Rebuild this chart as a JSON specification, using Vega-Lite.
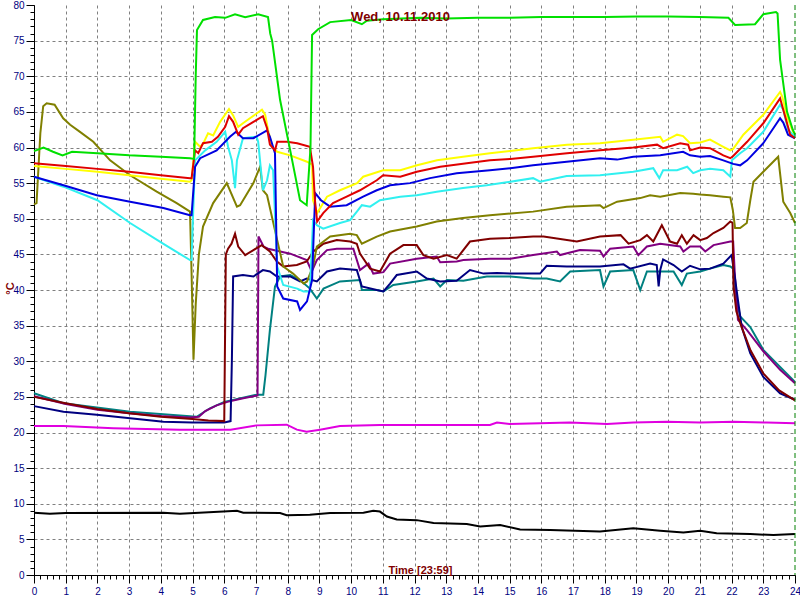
{
"$schema":"https://vega.github.io/schema/vega-lite/v6.json",
"width":761,"height":570,
"autosize":"none",
"padding":{"left":34,"top":5,"right":5,"bottom":25},
"background":"white",
"config":{"view":{"stroke":null},"font":"Liberation Sans"},
"title":{"text":"Wed, 10.11.2010","color":"#800000","font":"Liberation Sans","fontSize":13,"fontWeight":"bold","anchor":"middle","dx":-14,"offset":-24},
"data":{"values":[
{"s":"K","t":0,"v":8.75},{"s":"K","t":0.5,"v":8.6},{"s":"K","t":1,"v":8.7},{"s":"K","t":4.08,"v":8.75},{"s":"K","t":4.6,"v":8.6},{"s":"K","t":5.97,"v":8.9},{"s":"K","t":6.4,"v":9.0},{"s":"K","t":6.6,"v":8.75},{"s":"K","t":7.76,"v":8.7},{"s":"K","t":7.97,"v":8.4},{"s":"K","t":8.7,"v":8.45},{"s":"K","t":9.34,"v":8.7},{"s":"K","t":10.39,"v":8.75},{"s":"K","t":10.7,"v":9.0},{"s":"K","t":10.91,"v":8.9},{"s":"K","t":11.13,"v":8.2},{"s":"K","t":11.44,"v":7.8},{"s":"K","t":12.07,"v":7.7},{"s":"K","t":12.6,"v":7.3},{"s":"K","t":13.65,"v":7.15},{"s":"K","t":14.07,"v":6.8},{"s":"K","t":14.7,"v":7.0},{"s":"K","t":15.33,"v":6.4},{"s":"K","t":16.28,"v":6.3},{"s":"K","t":16.8,"v":6.25},{"s":"K","t":17.85,"v":6.1},{"s":"K","t":18.9,"v":6.55},{"s":"K","t":19.75,"v":6.2},{"s":"K","t":20.48,"v":5.95},{"s":"K","t":21.01,"v":6.2},{"s":"K","t":21.53,"v":5.85},{"s":"K","t":22.59,"v":5.75},{"s":"K","t":23.32,"v":5.6},{"s":"K","t":24,"v":5.75},
{"s":"Mg","t":0,"v":20.9},{"s":"Mg","t":0.93,"v":20.9},{"s":"Mg","t":2.5,"v":20.6},{"s":"Mg","t":4.6,"v":20.4},{"s":"Mg","t":6.2,"v":20.4},{"s":"Mg","t":7.02,"v":21.0},{"s":"Mg","t":7.97,"v":21.1},{"s":"Mg","t":8.29,"v":20.4},{"s":"Mg","t":8.6,"v":20.1},{"s":"Mg","t":9.02,"v":20.4},{"s":"Mg","t":9.65,"v":20.9},{"s":"Mg","t":10.91,"v":21.05},{"s":"Mg","t":12.7,"v":21.05},{"s":"Mg","t":14.38,"v":21.05},{"s":"Mg","t":14.6,"v":21.4},{"s":"Mg","t":15.0,"v":21.2},{"s":"Mg","t":16.9,"v":21.4},{"s":"Mg","t":18.07,"v":21.2},{"s":"Mg","t":18.9,"v":21.4},{"s":"Mg","t":19.96,"v":21.5},{"s":"Mg","t":21.01,"v":21.4},{"s":"Mg","t":22.06,"v":21.5},{"s":"Mg","t":23.11,"v":21.4},{"s":"Mg","t":24,"v":21.3},
{"s":"T","t":0,"v":25.5},{"s":"T","t":0.93,"v":24.1},{"s":"T","t":3.03,"v":22.9},{"s":"T","t":5.13,"v":22.2},{"s":"T","t":5.55,"v":23.4},{"s":"T","t":6.0,"v":24.3},{"s":"T","t":7.02,"v":25.3},{"s":"T","t":7.23,"v":25.3},{"s":"T","t":7.3,"v":28},{"s":"T","t":7.44,"v":34.4},{"s":"T","t":7.6,"v":40.5},{"s":"T","t":7.76,"v":41.9},{"s":"T","t":8.08,"v":42.1},{"s":"T","t":8.39,"v":41.4},{"s":"T","t":8.7,"v":40.2},{"s":"T","t":8.92,"v":38.8},{"s":"T","t":9.13,"v":40.2},{"s":"T","t":9.65,"v":41.2},{"s":"T","t":10.28,"v":41.4},{"s":"T","t":10.34,"v":40},{"s":"T","t":10.81,"v":40},{"s":"T","t":11.02,"v":39.8},{"s":"T","t":11.33,"v":40.7},{"s":"T","t":12.07,"v":41.2},{"s":"T","t":12.6,"v":41.6},{"s":"T","t":12.81,"v":40.5},{"s":"T","t":13.02,"v":41.4},{"s":"T","t":13.54,"v":41.3},{"s":"T","t":14.28,"v":41.9},{"s":"T","t":15.02,"v":41.9},{"s":"T","t":15.74,"v":41.6},{"s":"T","t":16.17,"v":41.6},{"s":"T","t":16.59,"v":41.2},{"s":"T","t":16.91,"v":42.6},{"s":"T","t":17.85,"v":42.8},{"s":"T","t":17.96,"v":40.5},{"s":"T","t":18.17,"v":42.6},{"s":"T","t":18.9,"v":42.8},{"s":"T","t":19.12,"v":40.0},{"s":"T","t":19.33,"v":42.6},{"s":"T","t":20.17,"v":42.6},{"s":"T","t":20.43,"v":40.7},{"s":"T","t":20.59,"v":42.3},{"s":"T","t":21.01,"v":42.6},{"s":"T","t":21.32,"v":43.0},{"s":"T","t":21.74,"v":43.5},{"s":"T","t":21.96,"v":43.3},{"s":"T","t":22.05,"v":43.0},{"s":"T","t":22.11,"v":39.5},{"s":"T","t":22.27,"v":36.3},{"s":"T","t":22.59,"v":34.8},{"s":"T","t":23.0,"v":31.6},{"s":"T","t":23.53,"v":29.2},{"s":"T","t":24,"v":27.1},
{"s":"P","t":0,"v":25.1},{"s":"P","t":1,"v":24.0},{"s":"P","t":2,"v":23.2},{"s":"P","t":3,"v":22.7},{"s":"P","t":4,"v":22.3},{"s":"P","t":4.9,"v":22.1},{"s":"P","t":5.2,"v":22.2},{"s":"P","t":5.4,"v":23.0},{"s":"P","t":5.76,"v":23.8},{"s":"P","t":6.1,"v":24.3},{"s":"P","t":6.6,"v":24.8},{"s":"P","t":7.05,"v":25.2},{"s":"P","t":7.08,"v":47.5},{"s":"P","t":7.24,"v":46.1},{"s":"P","t":7.38,"v":45.8},{"s":"P","t":8.08,"v":45.1},{"s":"P","t":8.6,"v":44.2},{"s":"P","t":8.76,"v":42.6},{"s":"P","t":8.92,"v":44.2},{"s":"P","t":9.24,"v":45.6},{"s":"P","t":9.55,"v":45.8},{"s":"P","t":10.07,"v":45.8},{"s":"P","t":10.28,"v":42.8},{"s":"P","t":10.55,"v":43.7},{"s":"P","t":10.7,"v":42.3},{"s":"P","t":11.02,"v":42.5},{"s":"P","t":11.23,"v":43.7},{"s":"P","t":12.07,"v":44.4},{"s":"P","t":12.7,"v":44.7},{"s":"P","t":12.81,"v":43.9},{"s":"P","t":13.33,"v":44.0},{"s":"P","t":13.54,"v":44.2},{"s":"P","t":14.38,"v":44.4},{"s":"P","t":15.02,"v":44.4},{"s":"P","t":15.74,"v":44.9},{"s":"P","t":16.49,"v":45.4},{"s":"P","t":16.59,"v":44.9},{"s":"P","t":17.22,"v":45.6},{"s":"P","t":17.85,"v":45.5},{"s":"P","t":17.96,"v":44.7},{"s":"P","t":18.17,"v":45.8},{"s":"P","t":18.9,"v":46.1},{"s":"P","t":19.06,"v":44.9},{"s":"P","t":19.33,"v":46.1},{"s":"P","t":19.75,"v":46.5},{"s":"P","t":20.38,"v":46.1},{"s":"P","t":20.48,"v":45.4},{"s":"P","t":20.69,"v":46.1},{"s":"P","t":21.01,"v":46.1},{"s":"P","t":21.17,"v":45.4},{"s":"P","t":21.43,"v":46.3},{"s":"P","t":21.96,"v":46.8},{"s":"P","t":22.05,"v":46.8},{"s":"P","t":22.1,"v":42.4},{"s":"P","t":22.2,"v":35.8},{"s":"P","t":22.48,"v":34.4},{"s":"P","t":23.0,"v":31.4},{"s":"P","t":23.53,"v":28.8},{"s":"P","t":24,"v":26.9},
{"s":"N","t":0,"v":23.7},{"s":"N","t":0.93,"v":22.9},{"s":"N","t":1.98,"v":22.5},{"s":"N","t":3.03,"v":22.0},{"s":"N","t":4.08,"v":21.5},{"s":"N","t":5.0,"v":21.4},{"s":"N","t":6.0,"v":21.4},{"s":"N","t":6.2,"v":21.6},{"s":"N","t":6.24,"v":30},{"s":"N","t":6.28,"v":41.9},{"s":"N","t":6.59,"v":42.1},{"s":"N","t":6.92,"v":41.9},{"s":"N","t":7.22,"v":42.8},{"s":"N","t":7.44,"v":42.6},{"s":"N","t":7.66,"v":41.9},{"s":"N","t":8.08,"v":41.9},{"s":"N","t":8.39,"v":41.2},{"s":"N","t":8.6,"v":41.6},{"s":"N","t":8.92,"v":41.2},{"s":"N","t":9.24,"v":42.6},{"s":"N","t":9.65,"v":43},{"s":"N","t":10.18,"v":42.8},{"s":"N","t":10.34,"v":40.5},{"s":"N","t":10.81,"v":40},{"s":"N","t":11.02,"v":39.8},{"s":"N","t":11.23,"v":40.9},{"s":"N","t":11.44,"v":42.1},{"s":"N","t":12.07,"v":42.6},{"s":"N","t":12.39,"v":41.6},{"s":"N","t":12.81,"v":41.2},{"s":"N","t":13.33,"v":41.3},{"s":"N","t":13.75,"v":42.8},{"s":"N","t":14.18,"v":42.3},{"s":"N","t":14.6,"v":42.4},{"s":"N","t":15.02,"v":42.3},{"s":"N","t":15.96,"v":42.3},{"s":"N","t":16.17,"v":43.4},{"s":"N","t":16.8,"v":43.3},{"s":"N","t":17.85,"v":43.3},{"s":"N","t":18.59,"v":43.6},{"s":"N","t":18.8,"v":43.0},{"s":"N","t":19.43,"v":43.7},{"s":"N","t":19.64,"v":43.5},{"s":"N","t":19.7,"v":40.5},{"s":"N","t":19.75,"v":42.8},{"s":"N","t":19.84,"v":44.3},{"s":"N","t":20.17,"v":43.5},{"s":"N","t":20.43,"v":42.6},{"s":"N","t":20.69,"v":43.4},{"s":"N","t":21.01,"v":42.9},{"s":"N","t":21.32,"v":43.0},{"s":"N","t":21.74,"v":43.7},{"s":"N","t":22.0,"v":44.9},{"s":"N","t":22.1,"v":41.9},{"s":"N","t":22.2,"v":38.6},{"s":"N","t":22.32,"v":34.8},{"s":"N","t":22.59,"v":31.1},{"s":"N","t":23.0,"v":27.8},{"s":"N","t":23.53,"v":25.5},{"s":"N","t":24,"v":24.6},
{"s":"M","t":0,"v":25.0},{"s":"M","t":1,"v":24.1},{"s":"M","t":2,"v":23.3},{"s":"M","t":3,"v":22.7},{"s":"M","t":4,"v":22.2},{"s":"M","t":5,"v":21.9},{"s":"M","t":5.5,"v":21.7},{"s":"M","t":6.0,"v":21.6},{"s":"M","t":6.05,"v":45},{"s":"M","t":6.12,"v":45.8},{"s":"M","t":6.23,"v":46.5},{"s":"M","t":6.34,"v":47.9},{"s":"M","t":6.44,"v":46.1},{"s":"M","t":6.66,"v":44.9},{"s":"M","t":6.92,"v":45.6},{"s":"M","t":7.18,"v":46.3},{"s":"M","t":7.44,"v":45.4},{"s":"M","t":7.66,"v":44},{"s":"M","t":7.86,"v":43.3},{"s":"M","t":8.29,"v":43.5},{"s":"M","t":8.6,"v":44},{"s":"M","t":8.81,"v":45.4},{"s":"M","t":9.13,"v":46.5},{"s":"M","t":9.55,"v":47},{"s":"M","t":9.97,"v":46.8},{"s":"M","t":10.18,"v":46.5},{"s":"M","t":10.28,"v":45.1},{"s":"M","t":10.6,"v":43},{"s":"M","t":10.91,"v":42.6},{"s":"M","t":11.23,"v":45.1},{"s":"M","t":11.65,"v":46.3},{"s":"M","t":12.07,"v":46.3},{"s":"M","t":12.28,"v":44.9},{"s":"M","t":12.6,"v":44.4},{"s":"M","t":13.02,"v":44.9},{"s":"M","t":13.33,"v":44.4},{"s":"M","t":13.75,"v":46.8},{"s":"M","t":14.38,"v":47.2},{"s":"M","t":15.0,"v":47.3},{"s":"M","t":15.74,"v":47.5},{"s":"M","t":16.07,"v":47.5},{"s":"M","t":17.12,"v":46.8},{"s":"M","t":17.85,"v":47.5},{"s":"M","t":18.5,"v":47.7},{"s":"M","t":18.75,"v":46.5},{"s":"M","t":19.12,"v":47.0},{"s":"M","t":19.33,"v":47.7},{"s":"M","t":19.53,"v":46.8},{"s":"M","t":19.8,"v":49.1},{"s":"M","t":20.06,"v":46.8},{"s":"M","t":20.28,"v":46.5},{"s":"M","t":20.43,"v":47.7},{"s":"M","t":20.59,"v":46.5},{"s":"M","t":20.8,"v":47.7},{"s":"M","t":21.01,"v":47.0},{"s":"M","t":21.22,"v":47.3},{"s":"M","t":21.43,"v":48.0},{"s":"M","t":21.74,"v":48.7},{"s":"M","t":21.96,"v":49.6},{"s":"M","t":22.03,"v":49.4},{"s":"M","t":22.06,"v":40.5},{"s":"M","t":22.15,"v":37},{"s":"M","t":22.3,"v":35},{"s":"M","t":22.6,"v":31.5},{"s":"M","t":23.0,"v":28.3},{"s":"M","t":23.5,"v":25.9},{"s":"M","t":24,"v":24.5},
{"s":"O","t":0,"v":52},{"s":"O","t":0.08,"v":52.2},{"s":"O","t":0.2,"v":62},{"s":"O","t":0.29,"v":65.8},{"s":"O","t":0.4,"v":66.2},{"s":"O","t":0.65,"v":66.0},{"s":"O","t":0.92,"v":64.1},{"s":"O","t":1.14,"v":63.2},{"s":"O","t":1.45,"v":62.2},{"s":"O","t":1.87,"v":60.8},{"s":"O","t":2.4,"v":58.2},{"s":"O","t":3.03,"v":56.1},{"s":"O","t":3.87,"v":53.8},{"s":"O","t":4.5,"v":52.2},{"s":"O","t":4.92,"v":51.0},{"s":"O","t":4.97,"v":42.3},{"s":"O","t":5.03,"v":30.2},{"s":"O","t":5.1,"v":38},{"s":"O","t":5.2,"v":45},{"s":"O","t":5.33,"v":48.9},{"s":"O","t":5.65,"v":52.2},{"s":"O","t":6.08,"v":55},{"s":"O","t":6.4,"v":51.7},{"s":"O","t":6.5,"v":51.9},{"s":"O","t":6.92,"v":55},{"s":"O","t":7.13,"v":57.3},{"s":"O","t":7.22,"v":54},{"s":"O","t":7.35,"v":53.3},{"s":"O","t":7.67,"v":47},{"s":"O","t":7.86,"v":43.3},{"s":"O","t":8.17,"v":42.3},{"s":"O","t":8.5,"v":40.9},{"s":"O","t":8.61,"v":41.2},{"s":"O","t":8.8,"v":43.3},{"s":"O","t":8.92,"v":46.1},{"s":"O","t":9.34,"v":47.5},{"s":"O","t":9.97,"v":47.9},{"s":"O","t":10.18,"v":47.7},{"s":"O","t":10.34,"v":46.5},{"s":"O","t":10.81,"v":47.5},{"s":"O","t":11.23,"v":48.2},{"s":"O","t":12.07,"v":48.9},{"s":"O","t":12.7,"v":49.6},{"s":"O","t":13.53,"v":50.1},{"s":"O","t":14.38,"v":50.5},{"s":"O","t":15.74,"v":51},{"s":"O","t":16.8,"v":51.7},{"s":"O","t":17.85,"v":51.9},{"s":"O","t":17.96,"v":51.5},{"s":"O","t":18.39,"v":52.4},{"s":"O","t":19.12,"v":52.9},{"s":"O","t":19.43,"v":53.3},{"s":"O","t":19.75,"v":53.1},{"s":"O","t":20.38,"v":53.6},{"s":"O","t":20.79,"v":53.5},{"s":"O","t":21.01,"v":53.4},{"s":"O","t":21.32,"v":53.3},{"s":"O","t":21.74,"v":53.1},{"s":"O","t":21.96,"v":53.0},{"s":"O","t":22.04,"v":51.2},{"s":"O","t":22.11,"v":48.7},{"s":"O","t":22.27,"v":48.7},{"s":"O","t":22.48,"v":49.4},{"s":"O","t":22.59,"v":52.6},{"s":"O","t":22.69,"v":55.2},{"s":"O","t":23.0,"v":56.6},{"s":"O","t":23.47,"v":58.7},{"s":"O","t":23.63,"v":52.4},{"s":"O","t":23.85,"v":50.8},{"s":"O","t":24,"v":49.4},
{"s":"C","t":0,"v":55.9},{"s":"C","t":0.93,"v":54.5},{"s":"C","t":2.0,"v":52.6},{"s":"C","t":3.03,"v":49.4},{"s":"C","t":4.07,"v":46.5},{"s":"C","t":4.92,"v":44.2},{"s":"C","t":4.97,"v":44.2},{"s":"C","t":5.0,"v":48.4},{"s":"C","t":5.08,"v":58.2},{"s":"C","t":5.4,"v":59.6},{"s":"C","t":5.76,"v":60.8},{"s":"C","t":6.03,"v":62.2},{"s":"C","t":6.12,"v":60.1},{"s":"C","t":6.24,"v":58.2},{"s":"C","t":6.34,"v":54.3},{"s":"C","t":6.4,"v":58.2},{"s":"C","t":6.59,"v":61.3},{"s":"C","t":7.02,"v":61.5},{"s":"C","t":7.07,"v":60.8},{"s":"C","t":7.22,"v":54},{"s":"C","t":7.35,"v":55.4},{"s":"C","t":7.44,"v":57.5},{"s":"C","t":7.54,"v":56.8},{"s":"C","t":7.67,"v":43.3},{"s":"C","t":7.86,"v":40.7},{"s":"C","t":8.3,"v":40.2},{"s":"C","t":8.5,"v":39.8},{"s":"C","t":8.7,"v":39.8},{"s":"C","t":8.8,"v":49.8},{"s":"C","t":8.92,"v":49.1},{"s":"C","t":9.12,"v":48.6},{"s":"C","t":9.65,"v":49.4},{"s":"C","t":9.97,"v":49.8},{"s":"C","t":10.22,"v":51.2},{"s":"C","t":10.34,"v":51.9},{"s":"C","t":10.6,"v":51.7},{"s":"C","t":10.91,"v":52.6},{"s":"C","t":11.55,"v":53.1},{"s":"C","t":12.07,"v":53.3},{"s":"C","t":12.7,"v":53.8},{"s":"C","t":13.53,"v":54.3},{"s":"C","t":14.28,"v":54.7},{"s":"C","t":15.02,"v":55.2},{"s":"C","t":15.74,"v":55.7},{"s":"C","t":15.96,"v":55.2},{"s":"C","t":16.8,"v":56},{"s":"C","t":17.85,"v":56.1},{"s":"C","t":18.9,"v":56.6},{"s":"C","t":19.53,"v":57.1},{"s":"C","t":19.72,"v":55.7},{"s":"C","t":19.84,"v":56.8},{"s":"C","t":20.28,"v":56.8},{"s":"C","t":20.6,"v":57.3},{"s":"C","t":20.79,"v":56.4},{"s":"C","t":21.01,"v":56.8},{"s":"C","t":21.32,"v":57.0},{"s":"C","t":21.74,"v":56.8},{"s":"C","t":21.96,"v":55.9},{"s":"C","t":22.01,"v":58.2},{"s":"C","t":22.27,"v":59.2},{"s":"C","t":22.49,"v":59.9},{"s":"C","t":23.0,"v":62.2},{"s":"C","t":23.53,"v":66},{"s":"C","t":23.63,"v":65.3},{"s":"C","t":23.78,"v":62.5},{"s":"C","t":24,"v":61.5},
{"s":"Y","t":0,"v":57.4},{"s":"Y","t":1,"v":57.0},{"s":"Y","t":2,"v":56.6},{"s":"Y","t":3,"v":56.1},{"s":"Y","t":4,"v":55.6},{"s":"Y","t":4.92,"v":55.2},{"s":"Y","t":4.97,"v":55.4},{"s":"Y","t":5.08,"v":60.8},{"s":"Y","t":5.24,"v":60.1},{"s":"Y","t":5.33,"v":60.5},{"s":"Y","t":5.49,"v":62},{"s":"Y","t":5.65,"v":61.7},{"s":"Y","t":5.87,"v":63.6},{"s":"Y","t":6.15,"v":65.4},{"s":"Y","t":6.28,"v":64.5},{"s":"Y","t":6.44,"v":62.9},{"s":"Y","t":6.59,"v":63.4},{"s":"Y","t":6.81,"v":64.1},{"s":"Y","t":7.03,"v":64.8},{"s":"Y","t":7.19,"v":65.3},{"s":"Y","t":7.29,"v":64.6},{"s":"Y","t":7.38,"v":62.5},{"s":"Y","t":7.51,"v":60.1},{"s":"Y","t":7.67,"v":59.4},{"s":"Y","t":8.08,"v":58.9},{"s":"Y","t":8.61,"v":58.0},{"s":"Y","t":8.77,"v":57.6},{"s":"Y","t":8.8,"v":52.6},{"s":"Y","t":8.93,"v":50.8},{"s":"Y","t":9.24,"v":53.1},{"s":"Y","t":9.65,"v":54},{"s":"Y","t":10.19,"v":55},{"s":"Y","t":10.38,"v":55.9},{"s":"Y","t":11.01,"v":56.8},{"s":"Y","t":11.55,"v":56.8},{"s":"Y","t":12.08,"v":57.5},{"s":"Y","t":12.71,"v":58.2},{"s":"Y","t":13.53,"v":58.7},{"s":"Y","t":14.38,"v":59.2},{"s":"Y","t":15.02,"v":59.5},{"s":"Y","t":15.74,"v":59.9},{"s":"Y","t":16.81,"v":60.4},{"s":"Y","t":17.85,"v":60.6},{"s":"Y","t":18.9,"v":61.1},{"s":"Y","t":19.75,"v":61.5},{"s":"Y","t":19.84,"v":60.8},{"s":"Y","t":20.28,"v":61.8},{"s":"Y","t":20.47,"v":61.6},{"s":"Y","t":20.69,"v":60.6},{"s":"Y","t":21.01,"v":60.7},{"s":"Y","t":21.32,"v":61.1},{"s":"Y","t":21.74,"v":60.1},{"s":"Y","t":21.96,"v":59.6},{"s":"Y","t":22.05,"v":59.8},{"s":"Y","t":22.37,"v":61.8},{"s":"Y","t":23.0,"v":64.6},{"s":"Y","t":23.53,"v":67.8},{"s":"Y","t":23.6,"v":67.1},{"s":"Y","t":23.75,"v":64.3},{"s":"Y","t":23.94,"v":62.2},{"s":"Y","t":24,"v":62},
{"s":"B","t":0,"v":55.9},{"s":"B","t":0.93,"v":54.7},{"s":"B","t":1.98,"v":53.3},{"s":"B","t":3.03,"v":52.4},{"s":"B","t":4.08,"v":51.5},{"s":"B","t":4.92,"v":50.5},{"s":"B","t":4.97,"v":50.5},{"s":"B","t":5.08,"v":57.3},{"s":"B","t":5.24,"v":58.5},{"s":"B","t":5.76,"v":59.6},{"s":"B","t":6.18,"v":61.5},{"s":"B","t":6.37,"v":62.2},{"s":"B","t":6.59,"v":61.3},{"s":"B","t":6.92,"v":61.3},{"s":"B","t":7.35,"v":62.4},{"s":"B","t":7.44,"v":61.5},{"s":"B","t":7.6,"v":59.2},{"s":"B","t":7.67,"v":40.5},{"s":"B","t":7.86,"v":38.8},{"s":"B","t":8.3,"v":38.4},{"s":"B","t":8.39,"v":37.2},{"s":"B","t":8.61,"v":38.4},{"s":"B","t":8.77,"v":41.4},{"s":"B","t":8.83,"v":48.9},{"s":"B","t":8.87,"v":53.6},{"s":"B","t":9.05,"v":52.6},{"s":"B","t":9.34,"v":51.7},{"s":"B","t":9.86,"v":51.9},{"s":"B","t":10.38,"v":53.1},{"s":"B","t":10.81,"v":54},{"s":"B","t":11.23,"v":54.7},{"s":"B","t":11.86,"v":55},{"s":"B","t":12.49,"v":55.7},{"s":"B","t":13.33,"v":56.4},{"s":"B","t":14.38,"v":56.8},{"s":"B","t":15.02,"v":57.1},{"s":"B","t":15.74,"v":57.5},{"s":"B","t":16.8,"v":58},{"s":"B","t":17.85,"v":58.5},{"s":"B","t":18.39,"v":58.3},{"s":"B","t":18.9,"v":58.7},{"s":"B","t":19.75,"v":58.9},{"s":"B","t":20.47,"v":59.4},{"s":"B","t":20.69,"v":58.9},{"s":"B","t":21.01,"v":58.7},{"s":"B","t":21.32,"v":58.8},{"s":"B","t":21.74,"v":58.2},{"s":"B","t":22.05,"v":57.7},{"s":"B","t":22.27,"v":57.5},{"s":"B","t":22.49,"v":58.2},{"s":"B","t":23.0,"v":60.6},{"s":"B","t":23.53,"v":64.1},{"s":"B","t":23.63,"v":63.5},{"s":"B","t":23.78,"v":61.8},{"s":"B","t":24,"v":61.3},
{"s":"R","t":0,"v":57.8},{"s":"R","t":1,"v":57.4},{"s":"R","t":2,"v":57.0},{"s":"R","t":3,"v":56.6},{"s":"R","t":4,"v":56.1},{"s":"R","t":4.92,"v":55.7},{"s":"R","t":4.97,"v":55.7},{"s":"R","t":5.08,"v":59.6},{"s":"R","t":5.18,"v":59.2},{"s":"R","t":5.33,"v":60.6},{"s":"R","t":5.61,"v":60.8},{"s":"R","t":5.8,"v":61.5},{"s":"R","t":6.03,"v":62.9},{"s":"R","t":6.15,"v":64.4},{"s":"R","t":6.28,"v":63.6},{"s":"R","t":6.44,"v":61.8},{"s":"R","t":6.59,"v":62.7},{"s":"R","t":6.92,"v":63.6},{"s":"R","t":7.22,"v":64.4},{"s":"R","t":7.35,"v":62.7},{"s":"R","t":7.44,"v":60.4},{"s":"R","t":7.6,"v":59.6},{"s":"R","t":7.67,"v":60.8},{"s":"R","t":7.98,"v":60.8},{"s":"R","t":8.3,"v":60.6},{"s":"R","t":8.7,"v":60.1},{"s":"R","t":8.8,"v":57.3},{"s":"R","t":8.86,"v":52.6},{"s":"R","t":8.93,"v":49.6},{"s":"R","t":9.12,"v":50.8},{"s":"R","t":9.43,"v":52.2},{"s":"R","t":9.86,"v":53.1},{"s":"R","t":10.28,"v":54},{"s":"R","t":10.81,"v":55.4},{"s":"R","t":11.01,"v":56.1},{"s":"R","t":11.55,"v":55.9},{"s":"R","t":12.07,"v":56.6},{"s":"R","t":12.81,"v":57.3},{"s":"R","t":13.65,"v":57.8},{"s":"R","t":14.38,"v":58.2},{"s":"R","t":15.02,"v":58.4},{"s":"R","t":15.74,"v":58.7},{"s":"R","t":16.81,"v":59.2},{"s":"R","t":17.85,"v":59.6},{"s":"R","t":18.9,"v":60.0},{"s":"R","t":19.65,"v":60.4},{"s":"R","t":19.84,"v":59.9},{"s":"R","t":20.38,"v":60.6},{"s":"R","t":20.63,"v":60.4},{"s":"R","t":20.69,"v":59.6},{"s":"R","t":21.01,"v":60.0},{"s":"R","t":21.32,"v":59.9},{"s":"R","t":21.74,"v":58.9},{"s":"R","t":21.96,"v":58.5},{"s":"R","t":22.05,"v":58.8},{"s":"R","t":22.49,"v":60.8},{"s":"R","t":23.0,"v":63.4},{"s":"R","t":23.53,"v":66.9},{"s":"R","t":23.63,"v":65.3},{"s":"R","t":23.85,"v":61.8},{"s":"R","t":24,"v":61.3},
{"s":"G","t":0,"v":59.5},{"s":"G","t":0.3,"v":60.0},{"s":"G","t":0.6,"v":59.4},{"s":"G","t":0.9,"v":58.9},{"s":"G","t":1.2,"v":59.4},{"s":"G","t":2,"v":59.2},{"s":"G","t":3,"v":58.9},{"s":"G","t":4,"v":58.7},{"s":"G","t":4.92,"v":58.5},{"s":"G","t":5.05,"v":58.4},{"s":"G","t":5.1,"v":70},{"s":"G","t":5.14,"v":76.5},{"s":"G","t":5.33,"v":77.9},{"s":"G","t":5.71,"v":78.3},{"s":"G","t":6.03,"v":78.2},{"s":"G","t":6.34,"v":78.7},{"s":"G","t":6.66,"v":78.3},{"s":"G","t":7.07,"v":78.7},{"s":"G","t":7.38,"v":78.3},{"s":"G","t":7.45,"v":76},{"s":"G","t":7.51,"v":75},{"s":"G","t":7.76,"v":66.7},{"s":"G","t":8.08,"v":59.6},{"s":"G","t":8.39,"v":52.6},{"s":"G","t":8.6,"v":51.9},{"s":"G","t":8.72,"v":60},{"s":"G","t":8.77,"v":75.8},{"s":"G","t":8.96,"v":76.6},{"s":"G","t":9.34,"v":77.6},{"s":"G","t":10,"v":77.9},{"s":"G","t":10.34,"v":77.3},{"s":"G","t":10.5,"v":77.8},{"s":"G","t":11,"v":78.0},{"s":"G","t":12.18,"v":78.2},{"s":"G","t":13,"v":78.1},{"s":"G","t":14,"v":78.2},{"s":"G","t":15,"v":78.2},{"s":"G","t":16,"v":78.3},{"s":"G","t":17,"v":78.3},{"s":"G","t":18,"v":78.3},{"s":"G","t":19,"v":78.4},{"s":"G","t":20,"v":78.4},{"s":"G","t":21,"v":78.3},{"s":"G","t":21.9,"v":78.2},{"s":"G","t":22.11,"v":77.2},{"s":"G","t":22.74,"v":77.3},{"s":"G","t":23.0,"v":78.7},{"s":"G","t":23.4,"v":79.0},{"s":"G","t":23.45,"v":78.8},{"s":"G","t":23.53,"v":72.3},{"s":"G","t":23.75,"v":65},{"s":"G","t":23.93,"v":62.5},{"s":"G","t":24,"v":61.8}
]},
"resolve":{"axis":{"x":"independent","y":"independent"}},
"layer":[
{"mark":{"type":"line","strokeWidth":2,"interpolate":"linear"},
 "encoding":{
  "x":{"field":"t","type":"quantitative","scale":{"domain":[0,24],"nice":false,"zero":false},
   "axis":{"orient":"bottom","values":[0,1,2,3,4,5,6,7,8,9,10,11,12,13,14,15,16,17,18,19,20,21,22,23,24],
    "labelOverlap":false,"labelFlush":false,"labelBound":false,
    "labelColor":"#000080","labelFont":"Liberation Sans","labelFontSize":10,"labelPadding":3,
    "tickColor":"black","domainColor":"black","domainWidth":1,"tickWidth":1,"tickSize":8,
    "grid":true,"gridColor":"#808080","gridDash":[3,3],"gridWidth":1,
    "gridOpacity":{"condition":{"test":"datum.value > 0 && datum.value < 24","value":1},"value":0},
    "title":"Time [23:59]","titleColor":"#800000","titleFont":"Liberation Sans","titleFontSize":11,"titleFontWeight":"bold",
    "titleX":386,"titleY":-2,"titleAlign":"center","titleBaseline":"alphabetic"}},
  "y":{"field":"v","type":"quantitative","scale":{"domain":[0,80],"nice":false,"zero":false},
   "axis":{"orient":"left","values":[0,5,10,15,20,25,30,35,40,45,50,55,60,65,70,75,80],
    "labelOverlap":false,"labelFlush":false,"labelBound":false,
    "labelColor":"#000080","labelFont":"Liberation Sans","labelFontSize":10,"labelPadding":2,
    "tickColor":"black","domainColor":"black","domainWidth":1,"tickWidth":1,"tickSize":8,
    "grid":true,"gridColor":"#808080","gridDash":[3,3],"gridWidth":1,
    "gridOpacity":{"condition":{"test":"datum.value > 0 && datum.value < 80","value":1},"value":0},
    "title":"°C","titleColor":"#800000","titleFont":"Liberation Sans","titleFontSize":11,"titleFontWeight":"bold",
    "titleX":-24,"titleY":283,"titleAngle":-90,"titleAlign":"center","titleBaseline":"middle"}},
  "color":{"field":"s","type":"nominal","legend":null,
   "scale":{"domain":["K","Mg","T","P","N","M","O","C","Y","B","R","G"],
    "range":["#000000","#e000e0","#008080","#800080","#000080","#800000","#808000","#30f0f0","#ffff00","#0000e0","#e00000","#00e000"]}}
 }},
{"data":{"values":[{"t":24,"v":0}]},
 "mark":{"type":"rule","color":"#008000","strokeDash":[5,3],"strokeWidth":1},
 "encoding":{"x":{"field":"t","type":"quantitative",
   "axis":{"orient":"bottom","values":[0,0.2,0.4,0.6,0.8,1,1.2,1.4,1.6,1.8,2,2.2,2.4,2.6,2.8,3,3.2,3.4,3.6,3.8,4,4.2,4.4,4.6,4.8,5,5.2,5.4,5.6,5.8,6,6.2,6.4,6.6,6.8,7,7.2,7.4,7.6,7.8,8,8.2,8.4,8.6,8.8,9,9.2,9.4,9.6,9.8,10,10.2,10.4,10.6,10.8,11,11.2,11.4,11.6,11.8,12,12.2,12.4,12.6,12.8,13,13.2,13.4,13.6,13.8,14,14.2,14.4,14.6,14.8,15,15.2,15.4,15.6,15.8,16,16.2,16.4,16.6,16.8,17,17.2,17.4,17.6,17.8,18,18.2,18.4,18.6,18.8,19,19.2,19.4,19.6,19.8,20,20.2,20.4,20.6,20.8,21,21.2,21.4,21.6,21.8,22,22.2,22.4,22.6,22.8,23,23.2,23.4,23.6,23.8,24],
    "labels":false,"grid":false,"domain":false,"title":null,"tickSize":4,"tickColor":"black","tickWidth":1}}}},
{"data":{"values":[{"t":0,"v":0}]},
 "mark":{"type":"rule","strokeOpacity":0},
 "encoding":{"y":{"field":"v","type":"quantitative",
   "axis":{"orient":"left","values":[0,1,2,3,4,5,6,7,8,9,10,11,12,13,14,15,16,17,18,19,20,21,22,23,24,25,26,27,28,29,30,31,32,33,34,35,36,37,38,39,40,41,42,43,44,45,46,47,48,49,50,51,52,53,54,55,56,57,58,59,60,61,62,63,64,65,66,67,68,69,70,71,72,73,74,75,76,77,78,79,80],
    "labels":false,"grid":false,"domain":false,"title":null,"tickSize":4,"tickColor":"black","tickWidth":1}}}}
]
}
